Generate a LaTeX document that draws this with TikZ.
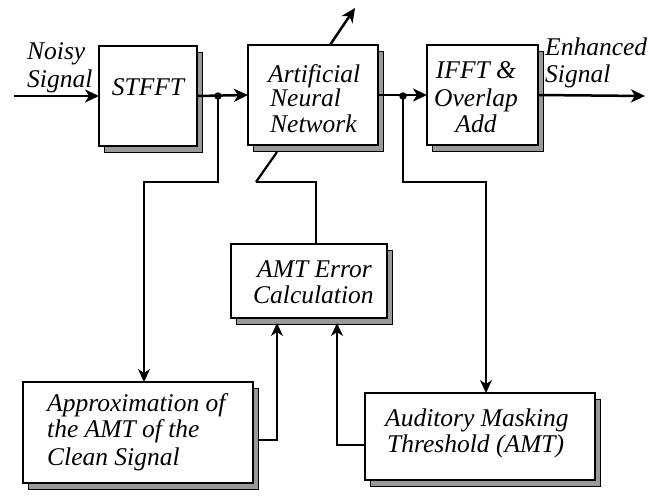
\documentclass[tikz,border=0pt]{standalone}
\usepackage{fontspec}
\setmainfont{Liberation Serif}
\usetikzlibrary{arrows.meta,calc,shadows}
\begin{document}
\begin{tikzpicture}[x=1pt,y=-1pt,
  blk/.style={draw=black, line width=1.4pt, fill=white, inner sep=0pt, outer sep=0pt,
    drop shadow={shadow xshift=5pt, shadow yshift=-6pt, fill=black!40, draw=black,
      line width=1pt, opacity=1}},
  lbl/.style={font=\fontsize{25.5}{26}\selectfont\itshape, inner sep=0pt, anchor=base west},
  clbl/.style={lbl, anchor=base},
  sig/.style={line width=2.5pt, -{Stealth[length=14pt,width=13pt,inset=4pt]}},
  wire/.style={line width=1.7pt},
  wtip/.style={wire, -{Stealth[length=13pt,width=12pt,inset=4pt]}},
  dot/.style={circle, fill=black, inner sep=0pt, minimum size=7.5pt}]
\useasboundingbox (0,0) rectangle (651,496);

% processing blocks
\node[blk, minimum width=98pt,  minimum height=100pt] (stfft)  at (148,96)    {};
\node[blk, minimum width=130pt, minimum height=100pt] (ann)    at (313,95)    {};
\node[blk, minimum width=111pt, minimum height=100pt] (ifft)   at (482.5,95)  {};
\node[blk, minimum width=156pt, minimum height=74pt]  (err)    at (309,281)   {};
\node[blk, minimum width=230pt, minimum height=101pt] (approx) at (138,432.5) {};
\node[blk, minimum width=230pt, minimum height=87pt]  (aud)    at (480,436.5) {};

% block texts
\node[lbl] (noisyA) at (27,59) {Noisy};
\node[lbl] (noisyB) at (27,87) {Signal};
\node[clbl] (stfftT) at (148,95) {STFFT};
\node[lbl] (annA) at (268,82) {Artificial};
\node[lbl] (annB) at (270,106) {Neural};
\node[lbl] (annC) at (270,132) {Network};
\node[clbl] (ifftA) at (476,78) {IFFT \&};
\node[clbl] (ifftB) at (476,106) {Overlap};
\node[clbl] (ifftC) at (476,132) {Add};
\node[lbl] (enhA) at (545,55) {Enhanced};
\node[lbl] (enhB) at (545,82) {Signal};
\node[lbl] (errA) at (257,277) {AMT Error};
\node[lbl] (errB) at (253,303) {Calculation};
\node[lbl] (apxA) at (47,411) {Approximation of};
\node[lbl] (apxB) at (47,437) {the AMT of the};
\node[lbl] (apxC) at (47,465) {Clean Signal};
\node[lbl] (audA) at (385,426) {Auditory Masking};
\node[lbl] (audB) at (387,452) {Threshold (AMT)};

% free ends and branch points
\coordinate (in)  at (14,96);
\coordinate (out) at (645,96);
\coordinate (upd) at (355,8);
\coordinate (lvl) at (0,182);
\node[dot] (j1) at (218,96) {};
\node[dot] (j2) at (403,96) {};

% main signal path
\draw[sig] (in) -- (stfft.west);
\draw[sig] (stfft.east) -- (ann.west);
\draw[sig] (ann.east) -- (ifft.west);
\draw[sig] (ifft.east) -- (out);
\draw[sig] ($(ann.north west)+(82,0)$) -- (upd);

% branches down to the threshold blocks
\draw[wtip] (j1.center) -- (j1 |- lvl) -| ($(approx.north west)+(121,0)$);
\draw[wtip] (j2.center) -- (j2 |- lvl) -| ($(aud.north west)+(121,0)$);

% error fed back to the network
\draw[wire, line width=2.2pt] ($(ann.south west)+(29,7)$) -- ($(lvl)+(256,0)$);
\draw[wire] ($(lvl)+(256,0)$) -| ($(err.north west)+(85,0)$);
\draw[wtip] ($(approx.east)+(5,7.5)$) -| ($(err.south west)+(46,5)$);
\draw[wtip] ($(aud.west)+(0,8.5)$) -| ($(err.south west)+(106,5)$);
\end{tikzpicture}
\end{document}
